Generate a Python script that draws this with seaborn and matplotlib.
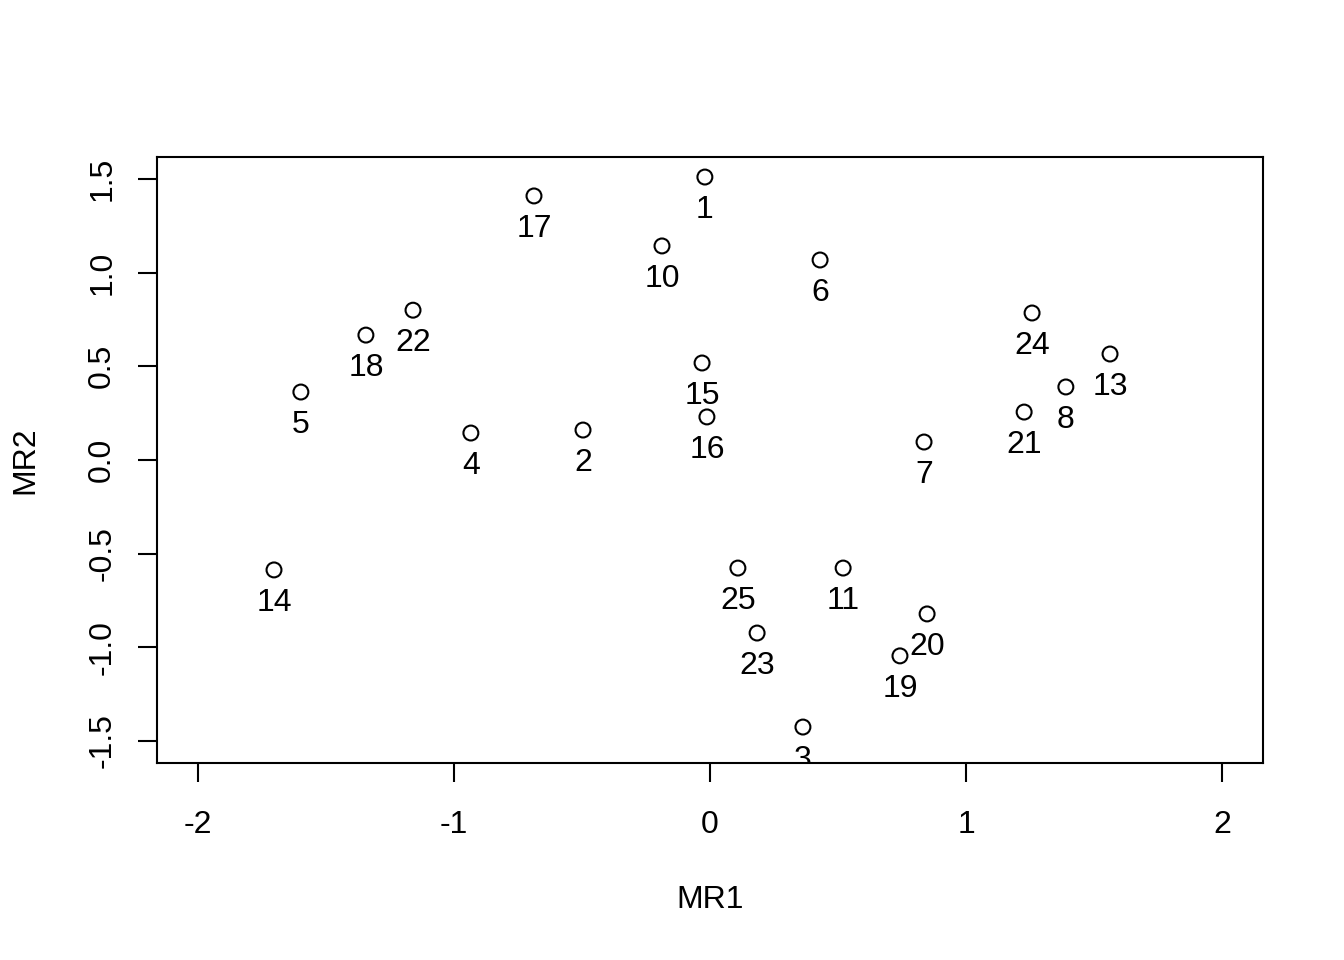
import matplotlib

matplotlib.use("Agg")

import matplotlib.pyplot as plt
import pandas as pd
import seaborn as sns

labels = ["1", "2", "3", "4", "5", "6", "7", "8", "10", "11", "13", "14", "15",
          "16", "17", "18", "19", "20", "21", "22", "23", "24", "25"]
mr1 = [-0.02, -0.496, 0.363, -0.934, -1.598, 0.43, 0.836, 1.39, -0.1875, 0.52, 1.5625,
       -1.703, -0.031, -0.012, -0.6875, -1.344, 0.742, 0.848, 1.227, -1.16, 0.184, 1.258, 0.109]
mr2 = [1.511, 0.16, -1.426, 0.144, 0.363, 1.068, 0.096, 0.39, 1.143, -0.577, 0.566,
       -0.587, 0.518, 0.23, 1.41, 0.667, -1.046, -0.822, 0.256, 0.80, -0.924, 0.785, -0.577]
x_ticks = [-2, -1, 0, 1, 2]
y_ticks = [-1.5, -1.0, -0.5, 0.0, 0.5, 1.0, 1.5]

df = pd.DataFrame({"label": labels, "MR1": mr1, "MR2": mr2})

sns.set_style("white")
plt.rcParams["font.family"] = ["Liberation Sans", "DejaVu Sans"]
plt.rcParams["text.color"] = "black"

FS = 23

fig = plt.figure(figsize=(13.44, 9.6), dpi=100)
ax = fig.add_axes([157 / 1344, 197 / 960, 1106 / 1344, 606 / 960])

sns.scatterplot(data=df, x="MR1", y="MR2", ax=ax, s=115, marker="o",
                facecolor="none", edgecolor="black", linewidth=1.5)

for _, row in df.iterrows():
    ax.annotate(row["label"], (row["MR1"], row["MR2"]), xytext=(0, -23.5),
                textcoords="offset points", ha="center", va="center",
                fontsize=FS, color="black", annotation_clip=False, clip_on=True)

ax.set_xlim(-2.16, 2.16)
ax.set_ylim(-1.618, 1.618)
ax.set_xticks(x_ticks)
ax.set_xticklabels([f"{t:g}" for t in x_ticks])
ax.set_yticks(y_ticks)
ax.set_yticklabels([f"{t:.1f}" for t in y_ticks], rotation=90, va="center")
ax.tick_params(axis="both", direction="out", length=13.7, width=1.5,
               labelsize=FS, color="black", labelcolor="black")
ax.tick_params(axis="x", pad=20)
ax.tick_params(axis="y", pad=15)
ax.tick_params(bottom=True, left=True)
for spine in ax.spines.values():
    spine.set_visible(True)
    spine.set_color("black")
    spine.set_linewidth(1.5)

ax.set_xlabel("MR1", fontsize=FS, color="black")
ax.set_ylabel("MR2", fontsize=FS, color="black")
ax.xaxis.set_label_coords(0.5, (763 - 900) / 606)
ax.yaxis.set_label_coords((25 - 157) / 1106, 0.5)
ax.xaxis.label.set_va("center")
ax.yaxis.label.set_va("center")

fig.savefig("out.png", dpi=100, facecolor="white")
plt.close(fig)
